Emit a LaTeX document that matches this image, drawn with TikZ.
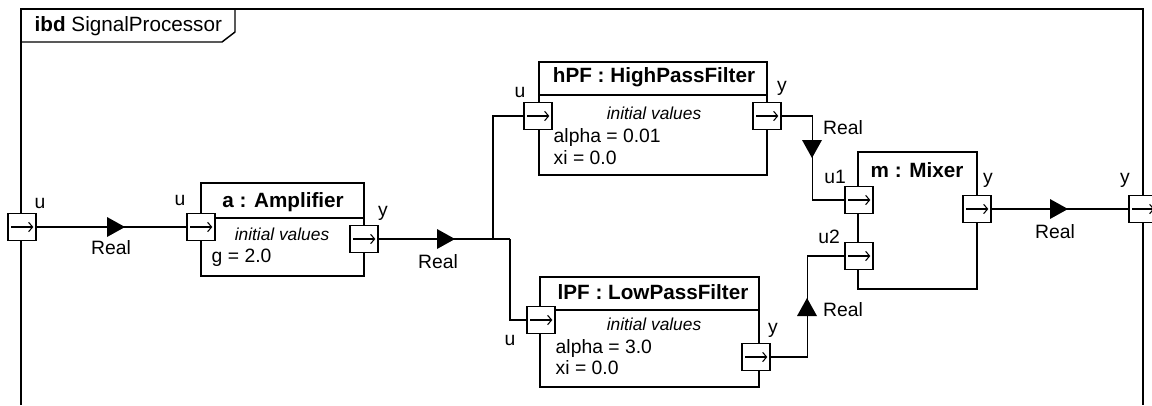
\documentclass[tikz,border=0pt]{standalone}
\usepackage{fontspec}
\setmainfont{Liberation Sans}
\usetikzlibrary{arrows.meta}
\begin{document}
\begin{tikzpicture}[x=0.75pt,y=-0.75pt,line width=1.1pt,
  blockbox/.style={draw,fill=white,inner sep=0pt},
  portbox/.style={draw,fill=white,inner sep=0pt,minimum width=21pt,minimum height=20.25pt,
    path picture={\draw[line width=0.8pt,-{Straight Barb[length=3pt,width=7pt]}]
      ([xshift=2.5pt]path picture bounding box.west) -- ([xshift=-2pt]path picture bounding box.east);}},
  lbl/.style={inner sep=0pt,font=\fontsize{14.5}{17}\selectfont},
  ttl/.style={inner sep=0pt,font=\fontsize{15.5}{18}\selectfont\bfseries},
  ital/.style={inner sep=0pt,font=\fontsize{13}{16}\selectfont\itshape},
  tri/.pic={\fill (-9,-10) -- (9,0) -- (-9,10) -- cycle;}
]
\useasboundingbox (0,0) rectangle (1152,405);
% frame
\draw (21,405) -- (21,9) -- (1143,9) -- (1143,405);
\draw (21,42) -- (222,42) -- (235,32) -- (235,9);
\node[lbl,anchor=west,font=\fontsize{15.5}{18}\selectfont] (title) at (34,26) {\textbf{ibd} SignalProcessor};
% blocks
\node[blockbox,minimum width=163*0.75pt,minimum height=93*0.75pt] (amp) at (282.5,229.5) {};
\node[blockbox,minimum width=228*0.75pt,minimum height=113*0.75pt] (hpf) at (653,118.5) {};
\node[blockbox,minimum width=219*0.75pt,minimum height=110*0.75pt] (lpf) at (649.5,332) {};
\node[blockbox,minimum width=119*0.75pt,minimum height=137*0.75pt] (mix) at (917.5,220.5) {};
\draw (amp.west |- 0,218) -- (amp.east |- 0,218);
\draw (hpf.west |- 0,95) -- (hpf.east |- 0,95);
\draw (lpf.west |- 0,310) -- (lpf.east |- 0,310);
% block texts
\node[ttl] (ampt) at (283,202) {a : Amplifier};
\node[ital] (ampiv) at (282,234) {initial values};
\node[lbl,anchor=west] (ampg) at (211,258) {g = 2.0};
\node[ttl] (hpft) at (654,77) {hPF : HighPassFilter};
\node[ital] (hpfiv) at (654,113) {initial values};
\node[lbl,anchor=west] (hpfa) at (553,137) {alpha = 0.01};
\node[lbl,anchor=west] (hpfx) at (553,158) {xi = 0.0};
\node[ttl] (lpft) at (653,292) {lPF : LowPassFilter};
\node[ital] (lpfiv) at (654,324) {initial values};
\node[lbl,anchor=west] (lpfa) at (555,348) {alpha = 3.0};
\node[lbl,anchor=west] (lpfx) at (555,368) {xi = 0.0};
\node[ttl] (mixt) at (917,170) {m : Mixer};
% ports
\node[portbox] (bu) at (22,227) {};
\node[portbox] (au) at (201,227) {};
\node[portbox] (ay) at (364,239) {};
\node[portbox] (hu) at (538,116) {};
\node[portbox] (hy) at (767,116) {};
\node[portbox] (lu) at (541,320) {};
\node[portbox] (ly) at (756,357) {};
\node[portbox] (mu1) at (859,200) {};
\node[portbox] (mu2) at (859,256) {};
\node[portbox] (my) at (977,209) {};
\node[portbox] (by) at (1143,209) {};
% connectors
\coordinate (j1) at (493,239);
\coordinate (j2) at (510,239);
\draw (bu.east) -- (au.west);
\draw (ay.east) -- (j2);
\draw (j1) |- (hu.west);
\draw (j2) |- (lu.west);
\draw (hy.east) -- ++(31,0) |- (mu1.west);
\draw (ly.east) -- ++(37,0) |- (mu2.west);
\draw (my.east) -- (by.west);
% flow triangles
\pic at (116,227) {tri};
\pic at (446,239) {tri};
\pic[rotate=-90] at (812,149) {tri};
\pic[rotate=90] at (807,307) {tri};
\pic at (1059,209) {tri};
% port and flow labels
\node[lbl] (lbu) at (40,203) {u};
\node[lbl] (lau) at (180,200) {u};
\node[lbl] (lay) at (383,213) {y};
\node[lbl] (lhu) at (520,92) {u};
\node[lbl] (lhy) at (782,88) {y};
\node[lbl] (llu) at (510,340) {u};
\node[lbl] (lly) at (773,330) {y};
\node[lbl] (lmu1) at (835,177) {u1};
\node[lbl] (lmu2) at (829,237) {u2};
\node[lbl] (lmy) at (988,180) {y};
\node[lbl] (lby) at (1125,180) {y};
\node[lbl] (r1) at (111,248) {Real};
\node[lbl] (r2) at (438,262) {Real};
\node[lbl] (r3) at (843,128) {Real};
\node[lbl] (r4) at (843,310) {Real};
\node[lbl] (r5) at (1055,232) {Real};
\end{tikzpicture}
\end{document}
